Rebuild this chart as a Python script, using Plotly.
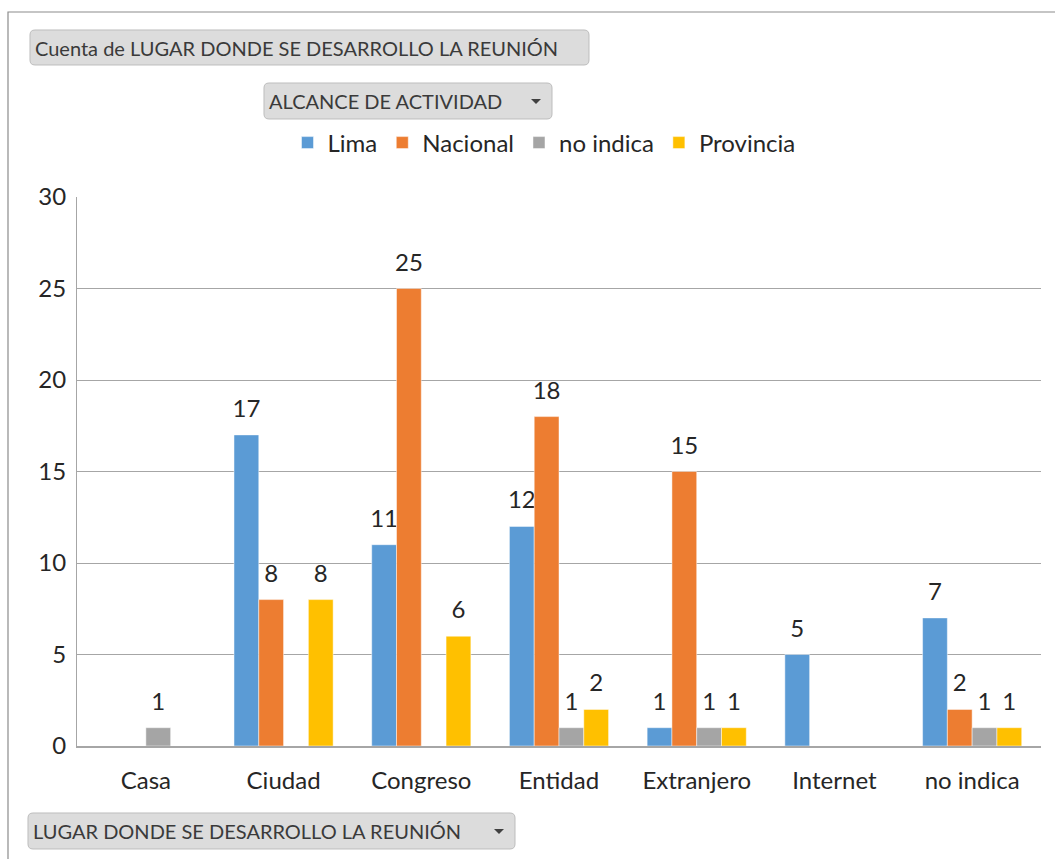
import plotly.graph_objects as go

categories = ["Casa", "Ciudad", "Congreso", "Entidad", "Extranjero", "Internet", "no indica"]
lima = [None, 17, 11, 12, 1, 5, 7]
nacional = [None, 8, 25, 18, 15, None, 2]
no_indica = [1, None, None, 1, 1, None, 1]
provincia = [None, 8, 6, 2, 1, None, 1]
series_names = ["Lima", "Nacional", "no indica", "Provincia"]
colors = ["#5B9BD5", "#ED7D31", "#A5A5A5", "#FFC000"]
y_ticks = [0, 5, 10, 15, 20, 25, 30]

W, H = 1055, 859
L, R, T, B = 77, 1041, 197, 746
FONT = "Lato"
TXT = "#262626"
FS = 24

fig = go.Figure()
for name, vals, col in zip(series_names, [lima, nacional, no_indica, provincia], colors):
    fig.add_trace(go.Bar(
        x=categories, y=vals, name=name,
        marker=dict(color=col, line=dict(color="rgba(255,255,255,0.6)", width=0.8)),
        text=[("" if v is None else f"<span style='font-size:{FS}px'>{v}</span><br>\u00a0") for v in vals],
        textposition="outside", textfont=dict(size=10, color=TXT, family=FONT),
        constraintext="none", cliponaxis=False,
    ))

def px_x(p):
    return (p - L) / (R - L)

def px_y(p):
    return (B - p) / (B - T)

def rrect(x0, y0, x1, y1, r=5):
    def P(x, y):
        return f"{px_x(x):.5f},{px_y(y):.5f}"
    return (f"M {P(x0 + r, y0)} L {P(x1 - r, y0)} Q {P(x1, y0)} {P(x1, y0 + r)} "
            f"L {P(x1, y1 - r)} Q {P(x1, y1)} {P(x1 - r, y1)} L {P(x0 + r, y1)} "
            f"Q {P(x0, y1)} {P(x0, y1 - r)} L {P(x0, y0 + r)} Q {P(x0, y0)} {P(x0 + r, y0)} Z")

shapes = []
shapes.append(dict(type="rect", xref="paper", yref="paper",
                   x0=px_x(8), y0=px_y(900), x1=px_x(1100), y1=px_y(12),
                   line=dict(color="#8c8c8c", width=1.2), fillcolor="rgba(0,0,0,0)", layer="below"))

buttons = [
    (30, 30, 589, 65, "Cuenta de LUGAR DONDE SE DESARROLLO LA REUNIÓN", False),
    (264, 83, 552, 119, "ALCANCE DE ACTIVIDAD", True),
    (28, 813, 515, 849, "LUGAR DONDE SE DESARROLLO LA REUNIÓN", True),
]
annotations = []
for (x0, y0, x1, y1, label, dd) in buttons:
    shapes.append(dict(type="path", xref="paper", yref="paper", path=rrect(x0, y0, x1, y1),
                       fillcolor="#dcdcdc", line=dict(color="#bdbdbd", width=1)))
    annotations.append(dict(xref="paper", yref="paper", x=px_x(x0 + 3), y=px_y((y0 + y1) / 2),
                            xanchor="left", yanchor="middle", showarrow=False, text=label,
                            font=dict(family=FONT, size=20, color="#3a3a3a")))
    if dd:
        cx, cy = x1 - 16, (y0 + y1) / 2
        shapes.append(dict(type="path", xref="paper", yref="paper",
                           path=(f"M {px_x(cx-5):.5f},{px_y(cy-2):.5f} L {px_x(cx+5):.5f},{px_y(cy-2):.5f} "
                                 f"L {px_x(cx):.5f},{px_y(cy+3):.5f} Z"),
                           fillcolor="#404040", line=dict(width=0)))

fig.update_layout(
    width=W, height=H,
    margin=dict(l=L, r=W - R, t=T, b=H - B, autoexpand=False),
    paper_bgcolor="white", plot_bgcolor="white",
    barmode="group", bargap=0.28, bargroupgap=0,
    font=dict(family=FONT, color=TXT, size=FS),
    showlegend=True,
    legend=dict(orientation="h", x=px_x(544), xanchor="center", y=px_y(143), yanchor="middle",
                font=dict(size=FS, color=TXT, family=FONT), traceorder="normal",
                itemclick=False, bgcolor="rgba(0,0,0,0)"),
    shapes=shapes, annotations=annotations,
    xaxis=dict(showgrid=False, showline=True, linecolor="#a6a6a6", linewidth=1.5,
               ticks="", tickfont=dict(size=FS, color=TXT, family=FONT), ticklabelstandoff=12),
    yaxis=dict(range=[0, 30], tickvals=y_ticks, showgrid=True, gridcolor="#a6a6a6", gridwidth=1,
               showline=True, linecolor="#a6a6a6", linewidth=1, zeroline=False,
               ticks="", tickfont=dict(size=FS, color=TXT, family=FONT), ticklabelstandoff=5),
)

fig.write_html("out.html", config={"displayModeBar": False},
               post_script="document.body.style.margin='0';document.body.style.overflow='hidden';")
